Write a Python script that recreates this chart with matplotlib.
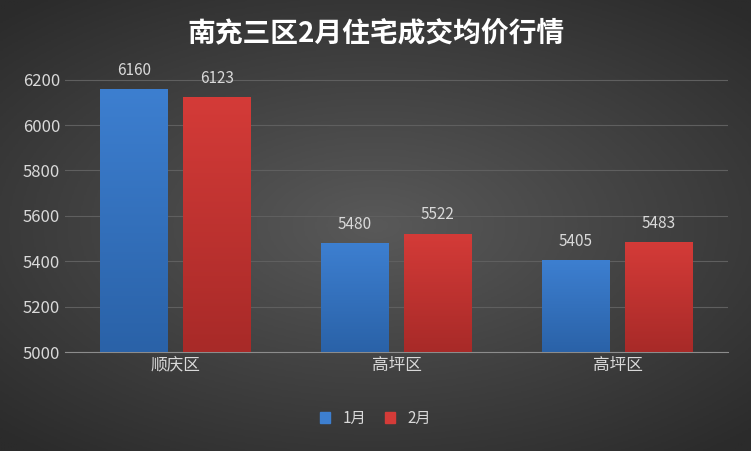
import numpy as np
import matplotlib
matplotlib.use("Agg")
import matplotlib.pyplot as plt
from matplotlib.colors import LinearSegmentedColormap

plt.rcParams['font.family'] = ['Noto Sans CJK SC', 'DejaVu Sans']

categories = ['顺庆区', '高坪区', '高坪区']
jan = [6160, 5480, 5405]
feb = [6123, 5522, 5483]
series_names = ['1月', '2月']

fig = plt.figure(figsize=(7.51, 4.51), dpi=100)
bg = fig.add_axes([0, 0, 1, 1], zorder=-10)
yy, xx = np.mgrid[-1:1:300j, -1:1:500j]
r = np.sqrt(xx**2 * 0.8 + yy**2)
bg.imshow(r, cmap=LinearSegmentedColormap.from_list('g', ['#595959', '#2b2b2b']),
          extent=[0, 1, 0, 1], aspect='auto', vmin=0, vmax=1.3)
bg.axis('off')

ax = fig.add_axes([65/751, 1-352/451, 663/751, (352-57)/451])
ax.patch.set_alpha(0)
x = np.arange(len(categories))
w = 0.305
gap = 0.07

def grad_bar(xc, h, c1, c2):
    b = ax.bar(xc, h - 5000, w, bottom=5000, color=c1, zorder=3)
    for rect in b:
        x0, y0 = rect.get_x(), rect.get_y()
        grad = np.linspace(1, 0, 100).reshape(-1, 1)
        im = ax.imshow(grad, cmap=LinearSegmentedColormap.from_list('b', [c2, c1]),
                       extent=[x0, x0 + w, y0, y0 + rect.get_height()],
                       aspect='auto', zorder=4)
        im.set_clip_path(rect)
    return b

grad_bar(x - w/2 - gap/2, np.array(jan), '#3d7fd0', '#2a62a8')
grad_bar(x + w/2 + gap/2, np.array(feb), '#d43b38', '#a82a28')
for i in range(len(x)):
    ax.text(x[i] - w/2 - gap/2, jan[i] + 45, str(jan[i]), ha='center', va='bottom', color='#d9d9d9', fontsize=11)
    ax.text(x[i] + w/2 + gap/2, feb[i] + 45, str(feb[i]), ha='center', va='bottom', color='#d9d9d9', fontsize=11)

ax.set_xlim(-0.5, 2.5)
ax.set_ylim(5000, 6300)
ax.set_yticks(range(5000, 6201, 200))
ax.set_xticks(x)
ax.set_xticklabels(categories)
ax.tick_params(colors='#d9d9d9', labelsize=12, length=0)
ax.grid(axis='y', color='#5f5f5f', lw=0.8, zorder=0)
for s in ['top', 'right', 'left']:
    ax.spines[s].set_visible(False)
ax.spines['bottom'].set_color('#8c8c8c')

fig.text(0.5, 1-33/451, '南充三区2月住宅成交均价行情', ha='center', va='center',
         color='white', fontsize=20, fontweight='bold')

from matplotlib.patches import Patch
fig.legend(handles=[Patch(color='#3d7fd0'), Patch(color='#d43b38')], labels=series_names,
           loc='center', bbox_to_anchor=(0.5, 1-418/451), ncol=2, frameon=False,
           labelcolor='#d9d9d9', fontsize=11, handlelength=0.7, handleheight=0.7, columnspacing=1.2)

fig.savefig('out.png', dpi=100)
